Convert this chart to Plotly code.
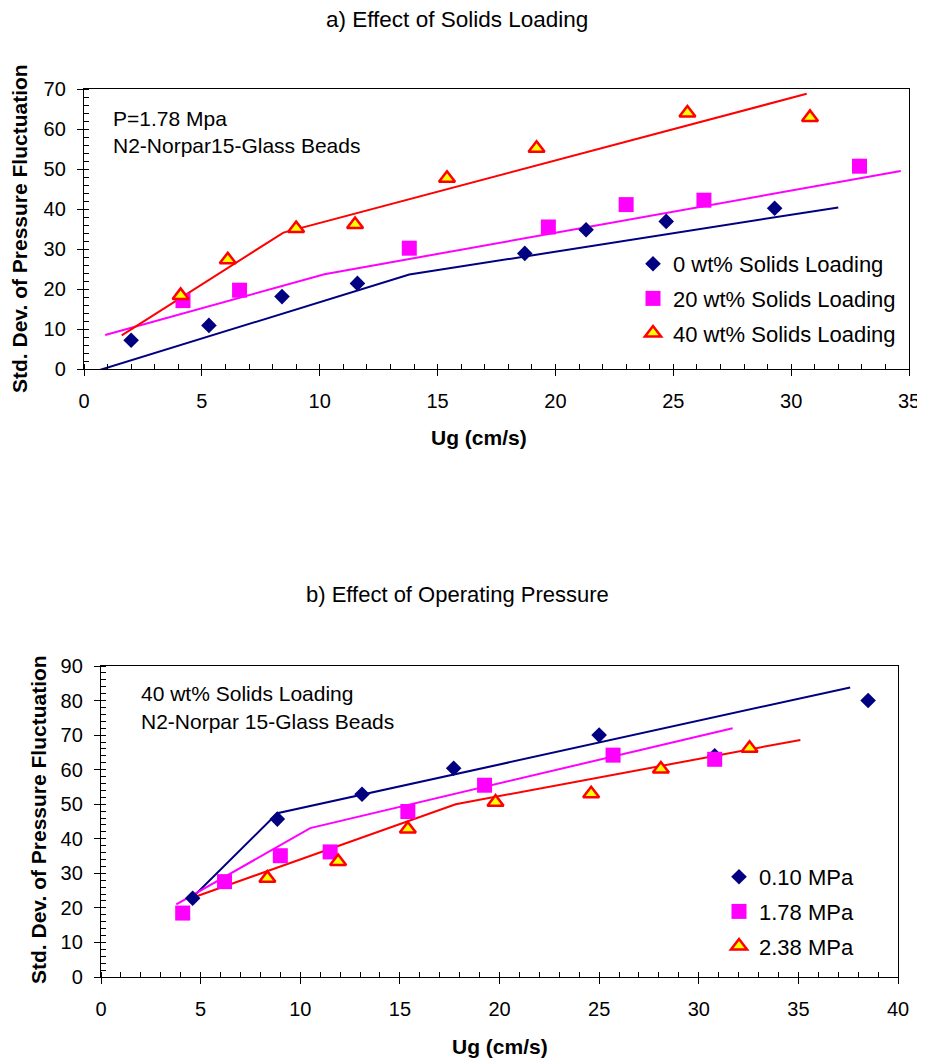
import plotly.graph_objects as go

# page body has an 8px margin; the figure is sized so it fits the 925x1061 window
OFF = 8
W, H = 925 - OFF, 1061 - OFF

# ---------------- data: a) Effect of Solids Loading ----------------
ug_a0 = [2.0, 5.3, 8.4, 11.6, 18.7, 21.3, 24.7, 29.3]
sd_a0 = [7.2, 10.9, 18.1, 21.4, 28.9, 34.8, 36.9, 40.2]
ug_a20 = [4.2, 6.6, 13.8, 19.7, 23.0, 26.3, 32.9]
sd_a20 = [17.1, 19.7, 30.2, 35.5, 41.1, 42.2, 50.7]
ug_a40 = [4.1, 6.1, 9.0, 11.5, 15.4, 19.2, 25.6, 30.8]
sd_a40 = [18.4, 27.3, 35.1, 36.1, 47.7, 55.2, 64.0, 62.9]

fit_x_a0 = [-0.3, 13.8, 32.0]
fit_y_a0 = [-2.0, 23.6, 40.4]
fit_x_a20 = [0.9, 10.2, 34.65]
fit_y_a20 = [8.5, 23.7, 49.5]
fit_x_a40 = [1.6, 8.46, 30.66]
fit_y_a40 = [8.4, 34.1, 68.8]

names_a = ["0 wt% Solids Loading", "20 wt% Solids Loading", "40 wt% Solids Loading"]

# ---------------- data: b) Effect of Operating Pressure ----------------
ug_b010 = [4.6, 8.85, 13.1, 17.7, 25.0, 30.8, 38.5]
sd_b010 = [22.8, 45.7, 52.9, 60.4, 70.0, 64.0, 80.0]
ug_b178 = [4.1, 6.2, 9.0, 11.5, 15.4, 19.25, 25.7, 30.8]
sd_b178 = [18.5, 27.6, 35.1, 36.2, 47.9, 55.5, 64.2, 63.0]
ug_b238 = [8.35, 11.9, 15.4, 19.8, 24.6, 28.1, 32.55]
sd_b238 = [28.6, 33.4, 42.8, 50.6, 53.0, 60.2, 66.2]

fit_x_b010 = [4.55, 8.85, 37.6]
fit_y_b010 = [22.8, 47.4, 83.8]
fit_x_b178 = [3.78, 10.5, 31.7]
fit_y_b178 = [21.0, 43.1, 72.0]
fit_x_b238 = [4.38, 17.8, 35.1]
fit_y_b238 = [22.5, 50.0, 68.6]

names_b = ["0.10 MPa", "1.78 MPa", "2.38 MPa"]

# ---------------- styles ----------------
NAVY, MAG, RED, YEL = "#000080", "#FF00FF", "#FF0000", "#FFFF00"
FONT = "Liberation Sans, Arial, sans-serif"


def sx(px):
    return (px - OFF) / W


def sy(py):
    return 1 - (py - OFF) / H


def mk(i):
    if i == 0:
        return dict(symbol="diamond", size=12, color=NAVY, line=dict(width=0))
    if i == 1:
        return dict(symbol="square", size=15, color=MAG, line=dict(width=0))
    return dict(symbol="triangle-up", size=14, color=YEL, line=dict(width=2.5, color=RED))


line_colors = [NAVY, MAG, RED]

fig = go.Figure()

fits_a = [(fit_x_a0, fit_y_a0), (fit_x_a20, fit_y_a20), (fit_x_a40, fit_y_a40)]
pts_a = [(ug_a0, sd_a0), (ug_a20, sd_a20), (ug_a40, sd_a40)]
fits_b = [(fit_x_b010, fit_y_b010), (fit_x_b178, fit_y_b178), (fit_x_b238, fit_y_b238)]
pts_b = [(ug_b010, sd_b010), (ug_b178, sd_b178), (ug_b238, sd_b238)]

for i, (fx, fy) in enumerate(fits_a):
    fig.add_trace(go.Scatter(x=fx, y=fy, mode="lines", xaxis="x", yaxis="y",
                             line=dict(color=line_colors[i], width=2), showlegend=False,
                             hoverinfo="skip"))
for i, (px, py) in enumerate(pts_a):
    fig.add_trace(go.Scatter(x=px, y=py, mode="markers", xaxis="x", yaxis="y",
                             marker=mk(i), name=names_a[i], legend="legend",
                             legendgroup="a%d" % i))

for i, (fx, fy) in enumerate(fits_b):
    fig.add_trace(go.Scatter(x=fx, y=fy, mode="lines", xaxis="x2", yaxis="y2",
                             line=dict(color=line_colors[i], width=2), showlegend=False,
                             hoverinfo="skip"))
for i, (px, py) in enumerate(pts_b):
    fig.add_trace(go.Scatter(x=px, y=py, mode="markers", xaxis="x2", yaxis="y2",
                             marker=mk(i), name=names_b[i], legend="legend2",
                             legendgroup="b%d" % i))


def ax(rng, dtick, mdtick, domain, anchor):
    return dict(range=rng, dtick=dtick, tick0=0, domain=domain, anchor=anchor,
                automargin=False,
                showline=True, linecolor="#000", linewidth=1.3, mirror=True,
                ticks="outside", ticklen=6, tickwidth=1.3, tickcolor="#000",
                showgrid=False, zeroline=False,
                tickfont=dict(family=FONT, size=20, color="#000"),
                minor=dict(dtick=mdtick, tick0=0, ticks="inside", ticklen=5,
                           tickwidth=1, tickcolor="#000", showgrid=False))


xa = ax([0, 35], 5, 1, [sx(84), sx(909)], "y")
xa["ticklabelstandoff"] = 8
ya = ax([0, 70], 10, 2, [sy(369), sy(89)], "x")
ya["ticklabelstandoff"] = 7
xb = ax([0, 40], 5, 1, [sx(101), sx(898)], "y2")
xb["ticklabelstandoff"] = 8
yb = ax([0, 90], 10, 2, [sy(977), sy(666)], "x2")
yb["ticklabelstandoff"] = 7


def ann(text, x, y, size, bold=False, angle=0, xanchor="center"):
    return dict(text=("<b>%s</b>" % text) if bold else text, x=sx(x), y=sy(y),
                xref="paper", yref="paper", showarrow=False, textangle=angle,
                xanchor=xanchor, yanchor="middle",
                font=dict(family=FONT, size=size, color="#000"))


annotations = [
    ann("a) Effect of Solids Loading", 457, 19, 22.5),
    ann("b) Effect of Operating Pressure", 457, 594, 22),
    ann("P=1.78 Mpa", 111, 118, 21, xanchor="left"),
    ann("N2-Norpar15-Glass Beads", 111, 145, 21, xanchor="left"),
    ann("40 wt% Solids Loading", 139, 693, 21, xanchor="left"),
    ann("N2-Norpar 15-Glass Beads", 139, 721, 21, xanchor="left"),
    ann("Ug (cm/s)", 479, 437, 21, bold=True),
    ann("Ug (cm/s)", 500, 1046, 21, bold=True),
    ann("Std. Dev. of Pressure Fluctuation", 19, 229, 21, bold=True, angle=-90),
    ann("Std. Dev. of Pressure Fluctuation", 38, 820, 21, bold=True, angle=-90),
]

fig.update_layout(
    width=W, height=H, autosize=False,
    margin=dict(l=0, r=0, t=0, b=0, pad=0),
    paper_bgcolor="white", plot_bgcolor="white",
    font=dict(family=FONT, color="#000"),
    xaxis=xa, yaxis=ya, xaxis2=xb, yaxis2=yb,
    annotations=annotations,
    legend=dict(x=sx(633), y=sy(243), xanchor="left", yanchor="top",
                bgcolor="white", borderwidth=0, tracegroupgap=3,
                font=dict(family=FONT, size=22, color="#000")),
    legend2=dict(x=sx(719), y=sy(856), xanchor="left", yanchor="top",
                 bgcolor="rgba(0,0,0,0)", borderwidth=0, tracegroupgap=3,
                 font=dict(family=FONT, size=22, color="#000")),
)

fig.write_html("out.html")
